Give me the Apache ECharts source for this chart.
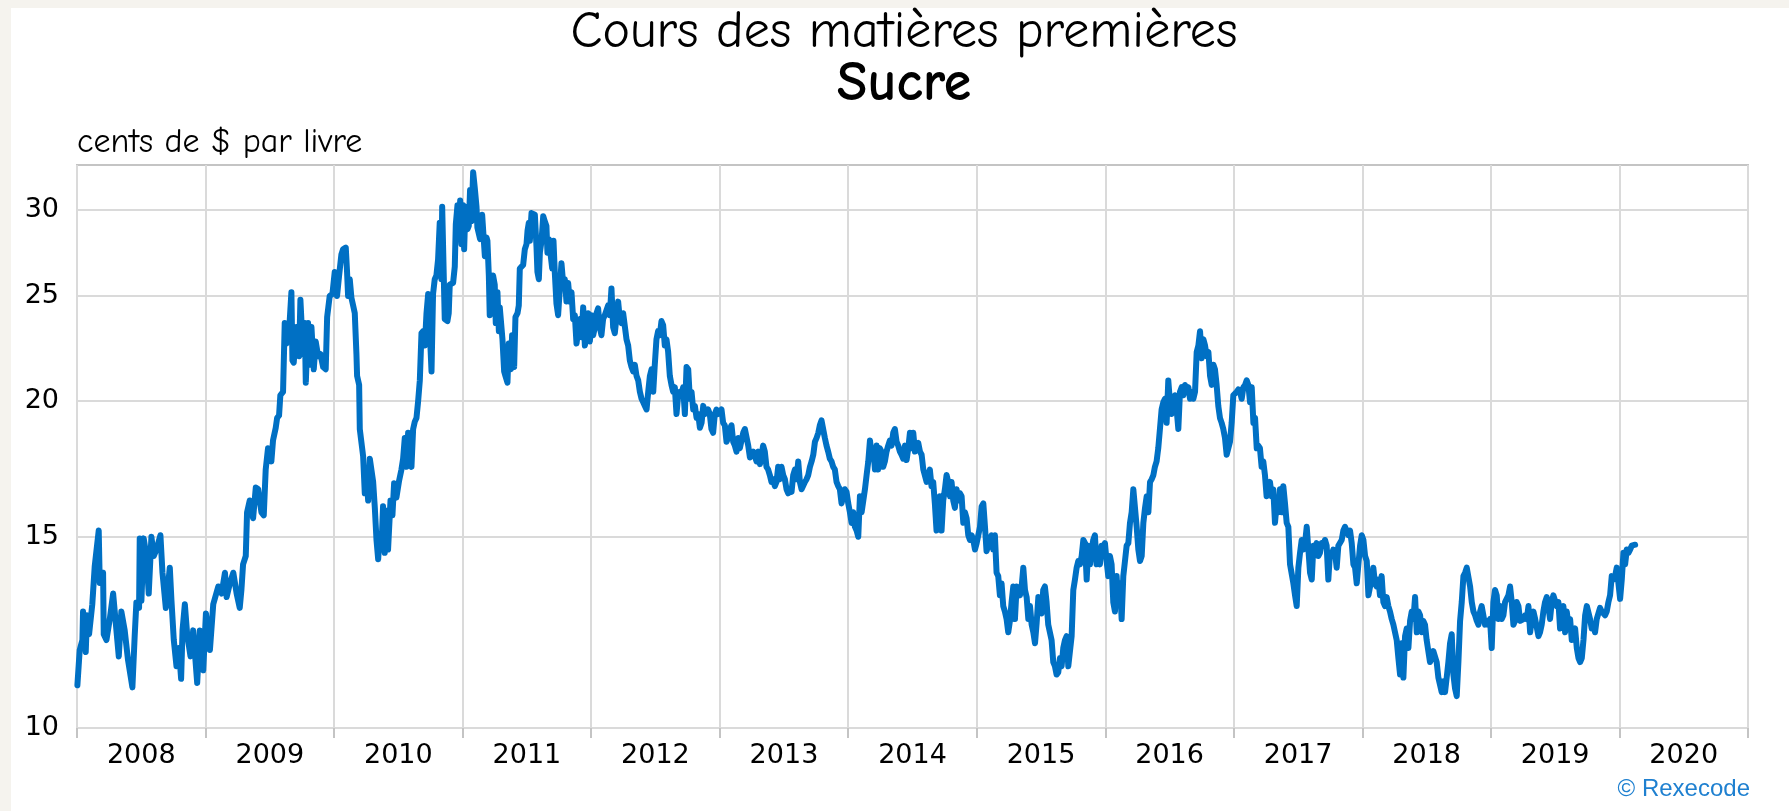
<!DOCTYPE html>
<html>
<head>
<meta charset="utf-8">
<script src="https://cdn.jsdelivr.net/npm/echarts@6/dist/echarts.min.js"></script>
<style>
html,body{margin:0;padding:0;background:#f5f3ee;width:1789px;height:811px;overflow:hidden}
#panel{position:absolute;left:11px;top:8px;right:0;bottom:0;background:#ffffff}
#chart{position:absolute;left:0;top:0;width:1789px;height:811px}
</style>
</head>
<body>
<div id="panel"></div>
<div id="chart"></div>
<script>
// Year labels (category bands) and y ticks
const years = ['2008','2009','2010','2011','2012','2013','2014','2015','2016','2017','2018','2019','2020'];
const yTicks = [10, 15, 20, 25, 30];

// Sugar price, US cents per pound: [decimal year, price]
const prices2008 = [[2008.003,10.95],[2008.021,11.8],[2008.042,12.05],[2008.047,12.8],[2008.068,11.75],[2008.078,12.7],[2008.094,12.2],[2008.119,13.0],[2008.138,14.1],[2008.151,14.55],[2008.169,15.2],[2008.177,13.6],[2008.203,13.9],[2008.208,12.2],[2008.229,12.05],[2008.255,12.6],[2008.281,13.3],[2008.325,11.64],[2008.345,12.8],[2008.371,12.3],[2008.397,11.55],[2008.431,10.9],[2008.449,12.17],[2008.462,13.05],[2008.483,12.9],[2008.488,14.95],[2008.501,13.1],[2008.519,14.95],[2008.540,14.4],[2008.558,13.3],[2008.579,15.0],[2008.597,14.4],[2008.618,14.6],[2008.649,15.05],[2008.665,13.9],[2008.691,12.9],[2008.722,14.05],[2008.735,13.1],[2008.753,12.05],[2008.774,11.4],[2008.792,11.85],[2008.810,11.1],[2008.821,12.3],[2008.839,13.0],[2008.857,12.2],[2008.883,11.64],[2008.904,12.3],[2008.935,11.0],[2008.956,12.3],[2008.982,11.3],[2009.003,12.75],[2009.034,11.8],[2009.060,13.0],[2009.099,13.5],[2009.125,13.3],[2009.151,13.9],[2009.164,13.2],[2009.190,13.6],[2009.216,13.9],[2009.242,13.3]];
const prices2009 = [[2009.266,12.9],[2009.279,13.4],[2009.292,14.15],[2009.313,14.4],[2009.323,15.8],[2009.344,16.2],[2009.370,15.6],[2009.391,16.65],[2009.409,16.6],[2009.435,15.8],[2009.453,15.7],[2009.468,17.3],[2009.486,18.1],[2009.512,17.6],[2009.525,18.4],[2009.546,18.9],[2009.557,19.3],[2009.572,19.4],[2009.582,20.25],[2009.603,20.4],[2009.616,23.6],[2009.629,22.6],[2009.650,23.2],[2009.668,25.2],[2009.676,21.8],[2009.686,21.7],[2009.707,23.4],[2009.728,22.0],[2009.738,24.8],[2009.759,22.1],[2009.772,23.6],[2009.780,20.8],[2009.798,23.6],[2009.811,21.6],[2009.824,23.4],[2009.842,21.4],[2009.857,22.7],[2009.876,22.0],[2009.894,22.1],[2009.915,21.5],[2009.935,21.4],[2009.946,23.9],[2009.966,25.0],[2009.987,25.1],[2010.005,26.3],[2010.023,25.0],[2010.039,26.1],[2010.057,27.3],[2010.070,27.6],[2010.091,27.7],[2010.101,26.3],[2010.109,25.0],[2010.122,25.9],[2010.135,24.9],[2010.148,24.5],[2010.161,24.1],[2010.174,22.1],[2010.179,21.1],[2010.195,20.7],[2010.200,18.85],[2010.213,18.85],[2010.226,17.8],[2010.239,16.45],[2010.252,17.1],[2010.265,16.2],[2010.278,17.7],[2010.291,17.75],[2010.304,16.85],[2010.317,15.95],[2010.330,14.9],[2010.343,14.3],[2010.355,15.05],[2010.368,14.6],[2010.381,16.0],[2010.394,14.5],[2010.407,15.85],[2010.420,14.6],[2010.439,16.2],[2010.454,15.7],[2010.467,16.8],[2010.485,16.3],[2010.506,16.9],[2010.524,17.3],[2010.537,17.7]];
const prices2010 = [[2010.550,18.5],[2010.563,17.4],[2010.576,18.7],[2010.589,17.5],[2010.602,17.4],[2010.615,18.85],[2010.628,19.15],[2010.641,19.3],[2010.654,20.0],[2010.667,20.9],[2010.680,23.1],[2010.693,23.2],[2010.706,22.5],[2010.719,24.1],[2010.732,25.1],[2010.745,25.1],[2010.758,21.3],[2010.770,25.1],[2010.783,25.9],[2010.796,26.1],[2010.809,27.0],[2010.822,29.2],[2010.835,25.9],[2010.841,30.2],[2010.856,30.2],[2010.861,23.8],[2010.882,23.7],[2010.892,24.1],[2010.900,25.6],[2010.913,25.6],[2010.926,25.7],[2010.939,26.6],[2010.947,29.1],[2010.960,30.3],[2010.970,28.7],[2010.981,30.6],[2010.991,27.9],[2011.004,30.3],[2011.012,27.6],[2011.022,30.2],[2011.038,28.8],[2011.048,29.0],[2011.058,31.3],[2011.069,29.3],[2011.082,32.5],[2011.095,31.4],[2011.108,30.2],[2011.115,28.9],[2011.126,29.0],[2011.136,28.2],[2011.152,29.7],[2011.162,29.8],[2011.173,27.2],[2011.186,28.3],[2011.193,28.1],[2011.204,26.1],[2011.211,24.0],[2011.224,24.0],[2011.237,26.1],[2011.250,25.6],[2011.258,23.6],[2011.271,25.2],[2011.282,23.2],[2011.289,24.4],[2011.302,23.4],[2011.310,22.8],[2011.323,21.3],[2011.333,21.1],[2011.349,20.8],[2011.359,22.6],[2011.375,21.4],[2011.385,23.0],[2011.401,21.5],[2011.411,23.9],[2011.427,24.1],[2011.437,24.5],[2011.445,26.5],[2011.458,26.6],[2011.471,26.7],[2011.484,27.6],[2011.497,27.9],[2011.505,28.7],[2011.515,29.2],[2011.523,28.1],[2011.536,29.8],[2011.549,29.8],[2011.562,29.7],[2011.575,27.7],[2011.582,26.3],[2011.593,25.9],[2011.601,27.4],[2011.614,28.1],[2011.627,29.6],[2011.639,29.3],[2011.652,29.0],[2011.660,27.4],[2011.671,28.2],[2011.686,28.1],[2011.697,26.5],[2011.707,28.1],[2011.717,26.3],[2011.730,24.6],[2011.743,24.0],[2011.756,24.1],[2011.769,26.8],[2011.782,25.7],[2011.795,25.9],[2011.808,24.7],[2011.821,25.7],[2011.834,24.7],[2011.847,25.2],[2011.860,23.8]];
const prices2012 = [[2011.873,24.0],[2011.886,22.6],[2011.899,23.2],[2011.912,23.8],[2011.925,22.9],[2011.938,24.4],[2011.951,22.5],[2011.964,23.0],[2011.977,24.1],[2011.990,22.7],[2012.003,24.0],[2012.016,23.0],[2012.029,23.4],[2012.042,24.1],[2012.054,24.35],[2012.067,23.4],[2012.080,23.0],[2012.093,23.8],[2012.106,24.0],[2012.119,24.1],[2012.132,24.5],[2012.145,24.0],[2012.158,25.4],[2012.171,23.4],[2012.184,23.1],[2012.197,23.9],[2012.210,24.7],[2012.223,23.8],[2012.236,23.6],[2012.249,24.1],[2012.262,24.0],[2012.275,22.8],[2012.288,22.5],[2012.301,21.8],[2012.314,21.5],[2012.327,21.3],[2012.340,21.6],[2012.353,21.1],[2012.366,20.9],[2012.379,20.4],[2012.392,20.1],[2012.405,19.95],[2012.418,19.8],[2012.431,19.65],[2012.444,20.4],[2012.457,21.1],[2012.470,21.4],[2012.483,20.4],[2012.495,21.6],[2012.508,22.8],[2012.521,23.2],[2012.534,23.0],[2012.547,23.7],[2012.560,23.5],[2012.573,22.5],[2012.586,22.8],[2012.599,22.2],[2012.612,21.1],[2012.625,20.7],[2012.638,20.4],[2012.651,20.6],[2012.664,19.46],[2012.677,20.25],[2012.690,20.4],[2012.703,20.25],[2012.716,20.6],[2012.729,19.46],[2012.742,21.5],[2012.755,21.4],[2012.768,20.1],[2012.781,20.4],[2012.794,19.65],[2012.807,19.8],[2012.820,19.3],[2012.833,19.46],[2012.846,18.9],[2012.859,19.1],[2012.872,19.8],[2012.885,19.46],[2012.898,19.46],[2012.910,19.65],[2012.923,19.46],[2012.936,18.85],[2012.949,18.7],[2012.962,19.46],[2012.975,19.65],[2012.988,19.46],[2013.001,19.46],[2013.014,19.65],[2013.027,19.1],[2013.040,19.0],[2013.053,18.35],[2013.066,18.5],[2013.079,18.85],[2013.092,19.0],[2013.105,18.35],[2013.118,18.2],[2013.131,17.97],[2013.144,18.5]];
const prices2013 = [[2013.157,18.1],[2013.170,18.4],[2013.183,18.7],[2013.196,18.85],[2013.209,18.9],[2013.222,18.2],[2013.235,17.75],[2013.248,17.7],[2013.261,17.97],[2013.274,18.0],[2013.287,17.6],[2013.300,17.97],[2013.313,17.5],[2013.326,17.85],[2013.338,18.2],[2013.351,17.97],[2013.364,17.4],[2013.377,17.3],[2013.390,17.1],[2013.403,16.85],[2013.416,16.95],[2013.429,16.7],[2013.442,16.85],[2013.455,17.4],[2013.468,16.95],[2013.481,17.4],[2013.494,17.1],[2013.507,16.95],[2013.520,16.59],[2013.533,16.45],[2013.546,16.59],[2013.559,16.5],[2013.572,17.1],[2013.585,17.3],[2013.598,16.95],[2013.611,17.6],[2013.624,16.85],[2013.637,16.59],[2013.650,16.65],[2013.663,16.85],[2013.676,16.95],[2013.689,17.1],[2013.702,17.4],[2013.715,17.6],[2013.728,17.85],[2013.741,18.35],[2013.754,18.5],[2013.767,18.7],[2013.779,19.0],[2013.792,19.2],[2013.805,18.85],[2013.818,18.5],[2013.831,18.2],[2013.844,17.97],[2013.857,17.7],[2013.870,17.6],[2013.883,17.4],[2013.896,17.3],[2013.909,16.85],[2013.922,16.7],[2013.935,16.59],[2013.948,16.1],[2013.961,16.15],[2013.974,16.59],[2013.987,16.5],[2014.000,16.1],[2014.013,15.8],[2014.026,15.45],[2014.039,15.8],[2014.052,15.32],[2014.065,15.2],[2014.078,15.0],[2014.091,16.35],[2014.104,15.8],[2014.117,15.8],[2014.130,16.59],[2014.143,17.1],[2014.156,17.6],[2014.169,18.4],[2014.182,17.85],[2014.195,18.1],[2014.208,17.3],[2014.221,18.2],[2014.233,17.3],[2014.246,18.1],[2014.259,17.97],[2014.272,17.4],[2014.285,17.6],[2014.298,17.97],[2014.311,18.2],[2014.324,18.4],[2014.337,18.2],[2014.350,18.7],[2014.363,18.85],[2014.376,18.35],[2014.389,18.2],[2014.402,17.97],[2014.415,17.85],[2014.428,17.7]];
const prices2014 = [[2014.441,18.2],[2014.454,17.65],[2014.467,18.1],[2014.480,18.7],[2014.493,18.1],[2014.506,18.7],[2014.519,17.97],[2014.532,18.2],[2014.545,18.3],[2014.558,17.97],[2014.571,17.85],[2014.584,17.3],[2014.597,17.3],[2014.610,16.85],[2014.622,16.8],[2014.635,17.3],[2014.648,16.7],[2014.661,16.85],[2014.674,16.1],[2014.687,15.2],[2014.700,15.2],[2014.713,16.35],[2014.726,15.2],[2014.739,16.2],[2014.752,16.59],[2014.765,17.1],[2014.778,16.85],[2014.791,16.35],[2014.804,16.85],[2014.817,16.2],[2014.830,15.95],[2014.843,16.59],[2014.856,16.2],[2014.869,16.45],[2014.882,16.35],[2014.895,15.45],[2014.908,15.8],[2014.921,15.6],[2014.934,15.05],[2014.947,14.9],[2014.960,15.05],[2014.973,14.9],[2014.986,14.6],[2014.999,14.8],[2015.012,15.05],[2015.025,15.32],[2015.038,16.0],[2015.051,16.1],[2015.064,15.32],[2015.076,14.55],[2015.089,14.72],[2015.102,14.9],[2015.115,15.05],[2015.128,14.6],[2015.141,15.05],[2015.154,13.9],[2015.167,13.8],[2015.180,13.25],[2015.193,13.59],[2015.206,12.95],[2015.219,12.8],[2015.232,12.6],[2015.245,12.25],[2015.258,12.55],[2015.271,13.06],[2015.284,13.5],[2015.297,12.6],[2015.310,13.5],[2015.323,13.5],[2015.336,13.25],[2015.349,13.5],[2015.362,14.05],[2015.375,13.4],[2015.388,13.2],[2015.401,12.6],[2015.414,12.95],[2015.427,12.45],[2015.440,12.25],[2015.453,11.97],[2015.466,12.5],[2015.479,13.2],[2015.492,13.25],[2015.504,12.75],[2015.517,13.4],[2015.530,13.5],[2015.543,13.06],[2015.556,12.45],[2015.569,12.25],[2015.582,12.05],[2015.595,11.5],[2015.608,11.4],[2015.621,11.2],[2015.634,11.25],[2015.647,11.6],[2015.660,11.4],[2015.673,11.85],[2015.686,12.05],[2015.699,12.15],[2015.712,11.4]];
const prices2015 = [[2015.725,11.4],[2015.738,12.15],[2015.751,13.4],[2015.764,13.7],[2015.777,14.05],[2015.790,14.25],[2015.803,14.15],[2015.816,14.4],[2015.829,14.9],[2015.842,14.8],[2015.855,13.7],[2015.868,14.72],[2015.881,14.15],[2015.894,14.6],[2015.906,14.9],[2015.919,15.05],[2015.932,14.15],[2015.945,14.25],[2015.958,14.15],[2015.971,14.72],[2015.984,14.5],[2015.997,14.8],[2016.010,14.25],[2016.023,13.8],[2016.036,14.4],[2016.049,14.15],[2016.062,13.06],[2016.075,12.8],[2016.088,13.8],[2016.101,13.06],[2016.114,13.59],[2016.127,12.6],[2016.140,13.8],[2016.153,14.25],[2016.166,14.72],[2016.179,14.8],[2016.192,15.45],[2016.205,15.8],[2016.218,16.59],[2016.231,16.65],[2016.244,15.32],[2016.257,14.6],[2016.270,14.25],[2016.283,14.4],[2016.296,15.45],[2016.309,15.95],[2016.322,16.35],[2016.335,15.8],[2016.348,16.85],[2016.361,16.95],[2016.374,17.1],[2016.386,17.4],[2016.399,17.6],[2016.412,18.1],[2016.425,18.85],[2016.438,19.65],[2016.451,19.95],[2016.464,20.1],[2016.477,19.1],[2016.490,20.9],[2016.503,19.95],[2016.516,19.46],[2016.529,19.65],[2016.542,20.25],[2016.555,19.65],[2016.568,18.85],[2016.581,20.4],[2016.594,20.6],[2016.607,20.25],[2016.620,20.7],[2016.633,20.4],[2016.646,20.6],[2016.659,20.1],[2016.672,20.4],[2016.685,20.1],[2016.698,20.4],[2016.711,22.2],[2016.724,22.5],[2016.737,23.2],[2016.750,21.9],[2016.763,22.8],[2016.776,22.5],[2016.789,22.0],[2016.802,22.2],[2016.815,21.1],[2016.828,20.7],[2016.841,21.6],[2016.853,21.4],[2016.866,20.7],[2016.879,19.8],[2016.892,19.3],[2016.905,19.1],[2016.918,18.85],[2016.931,18.5],[2016.944,17.85],[2016.957,18.1],[2016.970,18.35],[2016.983,19.1],[2016.996,20.25]];
const prices2017 = [[2017.009,20.25],[2017.022,20.4],[2017.035,20.5],[2017.048,20.4],[2017.061,20.1],[2017.074,20.6],[2017.087,20.7],[2017.100,20.9],[2017.113,20.7],[2017.126,19.95],[2017.139,20.6],[2017.152,19.1],[2017.165,19.3],[2017.178,18.1],[2017.190,18.2],[2017.203,18.1],[2017.216,17.4],[2017.229,17.6],[2017.242,17.1],[2017.255,16.35],[2017.268,16.7],[2017.281,16.85],[2017.294,16.35],[2017.307,16.59],[2017.320,15.45],[2017.333,16.1],[2017.346,15.8],[2017.359,16.59],[2017.372,15.8],[2017.385,16.7],[2017.398,16.1],[2017.411,15.45],[2017.424,15.32],[2017.437,14.15],[2017.450,14.15],[2017.463,13.59],[2017.476,13.25],[2017.489,12.95],[2017.502,14.05],[2017.515,14.5],[2017.528,14.9],[2017.541,14.6],[2017.554,14.8],[2017.567,15.32],[2017.580,14.6],[2017.593,13.9],[2017.606,13.7],[2017.619,14.72],[2017.632,14.6],[2017.644,14.8],[2017.657,14.4],[2017.670,14.5],[2017.683,14.8],[2017.696,14.72],[2017.709,14.9],[2017.722,14.72],[2017.735,13.7],[2017.748,14.5],[2017.761,14.4],[2017.774,14.6],[2017.787,14.5],[2017.800,14.05],[2017.813,14.72],[2017.826,14.72],[2017.839,14.9],[2017.852,15.2],[2017.865,15.32],[2017.878,15.32],[2017.891,15.05],[2017.904,15.2],[2017.917,14.8],[2017.930,14.15],[2017.943,14.05],[2017.956,13.59],[2017.969,14.15],[2017.982,14.72],[2017.995,15.05],[2018.008,14.9],[2018.021,14.4],[2018.034,14.25],[2018.047,13.25],[2018.060,13.5],[2018.072,13.59],[2018.085,14.05],[2018.098,13.59],[2018.111,13.5],[2018.124,13.7],[2018.137,13.25],[2018.150,13.8],[2018.163,13.06],[2018.176,12.95],[2018.189,13.2],[2018.202,12.95],[2018.215,12.8],[2018.228,12.6],[2018.241,12.45],[2018.254,12.25],[2018.267,12.05],[2018.280,11.6]];
const prices2018 = [[2018.293,11.2],[2018.306,11.97],[2018.319,11.13],[2018.332,12.15],[2018.345,12.35],[2018.358,11.85],[2018.371,12.55],[2018.384,12.8],[2018.397,12.6],[2018.410,13.2],[2018.423,12.25],[2018.436,12.8],[2018.449,12.7],[2018.462,12.25],[2018.474,12.55],[2018.487,12.45],[2018.500,12.05],[2018.513,11.77],[2018.526,11.5],[2018.539,11.6],[2018.552,11.77],[2018.565,11.77],[2018.578,11.5],[2018.591,11.13],[2018.604,10.96],[2018.617,10.79],[2018.630,11.04],[2018.643,10.79],[2018.656,11.13],[2018.669,11.5],[2018.682,11.97],[2018.695,12.2],[2018.708,11.2],[2018.721,10.87],[2018.734,10.7],[2018.747,11.5],[2018.760,12.55],[2018.773,13.06],[2018.786,13.8],[2018.799,13.9],[2018.812,14.05],[2018.825,14.05],[2018.838,13.5],[2018.851,13.06],[2018.864,12.8],[2018.877,12.7],[2018.890,12.55],[2018.903,12.45],[2018.916,12.8],[2018.928,12.95],[2018.941,12.7],[2018.954,12.45],[2018.967,12.55],[2018.980,12.45],[2018.993,12.6],[2019.006,11.85],[2019.019,13.06],[2019.032,13.4],[2019.045,13.25],[2019.058,12.6],[2019.071,12.95],[2019.084,12.6],[2019.097,12.7],[2019.110,13.06],[2019.123,13.06],[2019.136,13.25],[2019.149,13.5],[2019.162,13.06],[2019.175,12.45],[2019.188,12.55],[2019.201,13.06],[2019.214,12.95],[2019.227,12.55],[2019.240,12.6],[2019.253,12.6],[2019.266,12.7],[2019.279,12.6],[2019.292,12.95],[2019.305,12.25],[2019.318,12.6],[2019.331,12.8],[2019.344,12.6],[2019.357,12.55],[2019.370,12.15],[2019.382,12.25],[2019.395,12.45],[2019.408,12.8],[2019.421,13.06],[2019.434,13.2],[2019.447,12.95],[2019.460,12.6],[2019.473,13.06],[2019.486,13.25],[2019.499,13.2],[2019.512,12.95],[2019.525,13.06],[2019.538,12.35],[2019.551,12.8],[2019.564,12.95]];
const prices2019 = [[2019.577,12.25],[2019.590,12.8],[2019.603,12.45],[2019.616,12.6],[2019.629,12.05],[2019.642,12.25],[2019.655,12.35],[2019.668,11.85],[2019.681,11.6],[2019.694,11.5],[2019.707,11.6],[2019.720,12.05],[2019.733,12.7],[2019.746,12.95],[2019.758,13.0],[2019.771,12.6],[2019.784,12.35],[2019.797,12.45],[2019.810,12.25],[2019.823,12.6],[2019.836,12.55],[2019.849,12.9],[2019.862,12.8],[2019.875,12.85],[2019.888,12.7],[2019.901,12.8],[2019.914,13.06],[2019.927,13.25],[2019.940,13.8],[2019.953,13.7],[2019.966,13.8],[2019.979,14.05],[2019.992,13.59],[2020.005,13.15],[2020.018,13.7],[2020.031,14.5],[2020.044,14.15],[2020.057,14.6],[2020.070,14.5],[2020.083,14.6],[2020.096,14.72],[2020.109,14.72],[2020.122,14.75]];

const sugar = [].concat(prices2008, prices2009, prices2010, prices2012, prices2013, prices2014, prices2015, prices2017, prices2018, prices2019);

const chart = echarts.init(document.getElementById('chart'), null, {renderer: 'canvas'});
const labelFont = {fontFamily: 'DejaVu Sans', fontSize: 27, color: '#000000'};
const titleFamily = '"Comic Sans MS", "Comic Neue", "Open Sans", sans-serif';

chart.setOption({
  animation: false,
  backgroundColor: 'transparent',
  grid: {
    left: 77, right: 41, top: 165, bottom: 83,
    show: true, borderColor: '#c4c4c4', borderWidth: 2, backgroundColor: 'transparent'
  },
  graphic: [
    {type: 'text', x: 904, y: 32, style: {text: 'Cours des matières premières', fontFamily: titleFamily, fontSize: 52, fill: '#000', align: 'center', verticalAlign: 'middle', textAlign: 'center', textVerticalAlign: 'middle'}},
    {type: 'text', x: 904, y: 84, style: {text: 'Sucre', fontFamily: titleFamily, fontSize: 56, fontWeight: 'bold', fill: '#000', align: 'center', verticalAlign: 'middle', textAlign: 'center', textVerticalAlign: 'middle'}},
    {type: 'text', x: 77, y: 142, style: {text: 'cents de $ par livre', fontFamily: titleFamily, fontSize: 34, fill: '#000', align: 'left', verticalAlign: 'middle', textAlign: 'left', textVerticalAlign: 'middle'}},
    {type: 'text', x: 1750, y: 789, style: {text: '© Rexecode', fontFamily: 'Liberation Sans, Arial, sans-serif', fontSize: 24, fill: '#1f80d0', align: 'right', verticalAlign: 'middle', textAlign: 'right', textVerticalAlign: 'middle'}}
  ],
  xAxis: [
    {type: 'value', min: 2008, max: 2021, show: false},
    {
      type: 'category', data: years, boundaryGap: true, position: 'bottom',
      axisLine: {show: false},
      axisTick: {show: true, interval: 0, length: 10, lineStyle: {color: '#c4c4c4', width: 2}},
      splitLine: {show: true, interval: 0, lineStyle: {color: '#dadada', width: 2}},
      axisLabel: Object.assign({interval: 0, margin: 14}, labelFont)
    }
  ],
  yAxis: {
    type: 'log', logBase: 10, min: 10, max: 33,
    axisLine: {show: false},
    axisTick: {show: false, customValues: yTicks},
    splitLine: {show: true, lineStyle: {color: '#dadada', width: 2}},
    axisLabel: Object.assign({customValues: yTicks, margin: 18, formatter: v => String(Math.round(v))}, labelFont)
  },
  series: [{
    type: 'line', xAxisIndex: 0, yAxisIndex: 0,
    data: sugar, showSymbol: false, symbol: 'none',
    lineStyle: {color: '#0070c4', width: 6, cap: 'round', join: 'round'},
    z: 5
  }]
});
</script>
</body>
</html>
